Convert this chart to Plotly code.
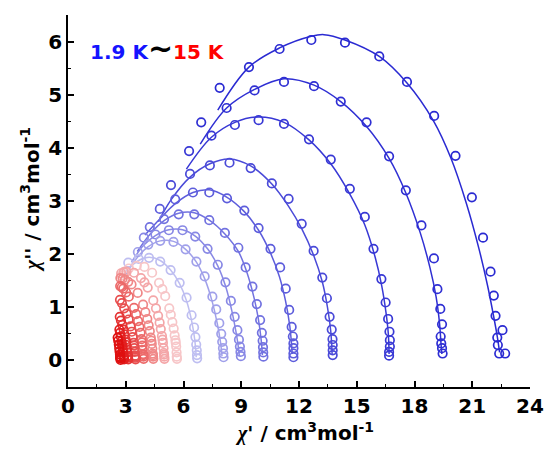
import plotly.graph_objects as go

# ---- data (chi' , chi'') ----
x1 = [7.88, 9.40, 10.99, 12.64, 14.39, 16.17, 17.61, 19.02, 20.13, 20.98, 21.56, 21.95, 22.12, 22.21, 22.30, 22.57, 22.33, 22.40, 22.71]
y1 = [5.13, 5.52, 5.86, 6.03, 5.98, 5.72, 5.24, 4.60, 3.85, 3.07, 2.31, 1.67, 1.22, 0.84, 0.43, 0.57, 0.29, 0.13, 0.13]
x2 = [6.92, 8.24, 9.69, 11.22, 12.78, 14.17, 15.51, 16.68, 17.55, 18.36, 19.01, 19.19, 19.34, 19.43, 19.36, 19.39, 19.43, 19.46]
y2 = [4.48, 4.75, 5.08, 5.24, 5.16, 4.87, 4.48, 3.84, 3.20, 2.54, 1.92, 1.34, 0.97, 0.68, 0.45, 0.32, 0.23, 0.13]
x3 = [6.29, 7.45, 8.67, 9.90, 11.22, 12.52, 13.65, 14.64, 15.42, 15.87, 16.28, 16.50, 16.63, 16.70, 16.72, 16.72, 16.68, 16.68]
y3 = [3.94, 4.23, 4.43, 4.52, 4.45, 4.16, 3.78, 3.23, 2.70, 2.10, 1.53, 1.09, 0.78, 0.54, 0.38, 0.26, 0.16, 0.09]
x4 = [5.35, 6.34, 7.37, 8.39, 9.49, 10.59, 11.46, 12.14, 12.76, 13.21, 13.45, 13.59, 13.70, 13.74, 13.75, 13.75, 13.75]
y4 = [3.30, 3.51, 3.67, 3.72, 3.62, 3.33, 3.04, 2.57, 2.06, 1.56, 1.17, 0.82, 0.58, 0.40, 0.29, 0.19, 0.10]
x5 = [4.77, 5.57, 6.49, 7.34, 8.26, 9.16, 9.90, 10.52, 11.02, 11.31, 11.49, 11.62, 11.68, 11.71, 11.71, 11.71, 11.71]
y5 = [2.85, 3.03, 3.16, 3.16, 3.05, 2.82, 2.49, 2.10, 1.75, 1.35, 0.95, 0.63, 0.45, 0.32, 0.23, 0.13, 0.06]
x6 = [4.25, 4.99, 5.75, 6.56, 7.34, 8.15, 8.85, 9.23, 9.58, 9.81, 9.98, 10.07, 10.11, 10.13, 10.14, 10.15]
y6 = [2.51, 2.66, 2.75, 2.75, 2.64, 2.40, 2.12, 1.75, 1.39, 1.06, 0.76, 0.52, 0.37, 0.25, 0.15, 0.07]
x7 = [3.94, 4.54, 5.24, 5.95, 6.61, 7.25, 7.78, 8.18, 8.46, 8.66, 8.80, 8.88, 8.93, 8.96, 8.98]
y7 = [2.31, 2.37, 2.45, 2.45, 2.33, 2.10, 1.80, 1.47, 1.12, 0.82, 0.57, 0.39, 0.26, 0.16, 0.08]
x8 = [3.63, 4.17, 4.79, 5.48, 6.11, 6.67, 7.10, 7.50, 7.70, 7.86, 7.96, 8.01, 8.05, 8.07, 8.08]
y8 = [2.04, 2.18, 2.25, 2.23, 2.09, 1.86, 1.58, 1.20, 0.96, 0.70, 0.50, 0.35, 0.23, 0.13, 0.06]
x9 = [3.13, 3.67, 4.21, 4.79, 5.33, 5.80, 6.16, 6.42, 6.55, 6.62, 6.66, 6.69, 6.70, 6.71]
y9 = [1.84, 1.91, 1.93, 1.86, 1.70, 1.46, 1.18, 0.85, 0.62, 0.44, 0.30, 0.19, 0.10, 0.04]
x10 = [5.66, 5.65, 5.64, 5.62, 5.60, 5.58, 5.54, 5.49, 5.42, 5.34, 5.26, 5.05, 4.90, 4.73, 4.37, 3.97, 3.57, 3.16, 2.96, 2.78]
y10 = [0.03, 0.07, 0.15, 0.26, 0.33, 0.38, 0.47, 0.60, 0.72, 0.86, 0.98, 1.21, 1.34, 1.46, 1.65, 1.76, 1.78, 1.73, 1.67, 1.60]
x11 = [5.01, 5.00, 4.99, 4.98, 4.96, 4.93, 4.91, 4.88, 4.82, 4.76, 4.68, 4.57, 4.43, 4.14, 3.97, 3.79, 3.43, 3.04, 2.90, 2.76]
y11 = [0.03, 0.07, 0.11, 0.14, 0.23, 0.33, 0.39, 0.46, 0.59, 0.71, 0.84, 0.98, 1.13, 1.37, 1.47, 1.55, 1.65, 1.67, 1.66, 1.64]
x12 = [4.43, 4.42, 4.41, 4.40, 4.38, 4.35, 4.33, 4.30, 4.25, 4.19, 4.12, 4.02, 3.90, 3.62, 3.30, 3.13, 2.96, 2.84, 2.72]
y12 = [0.03, 0.07, 0.10, 0.13, 0.22, 0.31, 0.37, 0.43, 0.55, 0.66, 0.78, 0.91, 1.05, 1.27, 1.43, 1.48, 1.52, 1.54, 1.55]
x13 = [3.93, 3.92, 3.915, 3.91, 3.88, 3.86, 3.84, 3.82, 3.77, 3.71, 3.64, 3.54, 3.43, 3.16, 3.02, 2.87, 2.79, 2.71]
y13 = [0.03, 0.07, 0.10, 0.12, 0.20, 0.28, 0.34, 0.40, 0.52, 0.63, 0.74, 0.87, 0.99, 1.20, 1.28, 1.35, 1.38, 1.40]
x14 = [3.51, 3.50, 3.495, 3.49, 3.47, 3.45, 3.43, 3.41, 3.36, 3.31, 3.25, 3.15, 3.04, 2.92, 2.80, 2.70]
y14 = [0.02, 0.05, 0.07, 0.09, 0.16, 0.23, 0.28, 0.33, 0.44, 0.54, 0.64, 0.77, 0.88, 0.98, 1.08, 1.14]
x15 = [3.13, 3.12, 3.115, 3.11, 3.09, 3.07, 3.04, 3.02, 3.00, 2.94, 2.89, 2.82, 2.75, 2.69]
y15 = [0.02, 0.05, 0.07, 0.09, 0.15, 0.21, 0.29, 0.34, 0.39, 0.49, 0.58, 0.67, 0.75, 0.82]
x16 = [2.91, 2.90, 2.895, 2.89, 2.87, 2.85, 2.82, 2.80, 2.78, 2.74, 2.70, 2.67]
y16 = [0.02, 0.05, 0.07, 0.09, 0.14, 0.20, 0.27, 0.31, 0.36, 0.45, 0.52, 0.58]
x17 = [2.73, 2.72, 2.715, 2.71, 2.70, 2.68, 2.66, 2.64, 2.61, 2.58]
y17 = [0.01, 0.04, 0.05, 0.07, 0.11, 0.17, 0.23, 0.30, 0.37, 0.43]

# ---- fitted lines ----
fx1 = [7.78, 9.40, 10.99, 12.64, 13.30, 14.39, 16.17, 17.61, 19.00, 19.90, 20.70, 21.35, 21.80, 22.10, 22.30, 22.42]
fy1 = [4.71, 5.52, 5.88, 6.10, 6.13, 6.03, 5.72, 5.22, 4.50, 3.80, 2.95, 2.10, 1.40, 0.85, 0.45, 0.15]
fx2 = [6.87, 8.24, 9.69, 11.22, 12.78, 14.17, 15.51, 16.68, 17.55, 18.30, 18.80, 19.12, 19.30, 19.38, 19.42]
fy2 = [4.07, 4.75, 5.10, 5.30, 5.18, 4.87, 4.40, 3.80, 3.15, 2.40, 1.75, 1.20, 0.70, 0.30, 0.12]
fx3 = [6.15, 7.45, 8.67, 9.90, 11.22, 12.52, 13.65, 14.64, 15.42, 15.95, 16.30, 16.52, 16.64, 16.68]
fy3 = [3.60, 4.20, 4.48, 4.58, 4.48, 4.15, 3.70, 3.13, 2.55, 1.95, 1.40, 0.90, 0.50, 0.12]
fx4 = [4.70, 5.35, 6.34, 7.37, 8.39, 9.49, 10.59, 11.46, 12.14, 12.76, 13.21, 13.48, 13.65, 13.72]
fy4 = [2.61, 3.02, 3.45, 3.70, 3.79, 3.66, 3.32, 2.90, 2.48, 1.98, 1.48, 1.00, 0.55, 0.12]
fx5 = [4.00, 4.77, 5.57, 6.49, 7.34, 8.26, 9.16, 9.90, 10.52, 10.98, 11.30, 11.52, 11.65]
fy5 = [2.36, 2.66, 2.95, 3.16, 3.21, 3.07, 2.80, 2.45, 2.02, 1.58, 1.12, 0.65, 0.12]
fx6 = [3.60, 4.25, 4.99, 5.75, 6.56, 7.34, 8.15, 8.85, 9.30, 9.65, 9.88, 10.03, 10.10]
fy6 = [2.05, 2.37, 2.63, 2.77, 2.78, 2.64, 2.38, 2.05, 1.65, 1.20, 0.80, 0.40, 0.10]
fx7 = [3.30, 3.94, 4.54, 5.24, 5.95, 6.61, 7.25, 7.78, 8.20, 8.50, 8.72, 8.85, 8.90]
fy7 = [1.85, 2.17, 2.35, 2.46, 2.46, 2.34, 2.10, 1.78, 1.38, 0.95, 0.55, 0.25, 0.08]
fx8 = [3.00, 3.63, 4.17, 4.79, 5.48, 6.11, 6.67, 7.12, 7.48, 7.75, 7.92, 8.00]
fy8 = [1.62, 1.95, 2.14, 2.25, 2.24, 2.09, 1.85, 1.52, 1.12, 0.70, 0.35, 0.08]
fx9 = [2.80, 3.13, 3.67, 4.21, 4.79, 5.33, 5.80, 6.16, 6.42, 6.58, 6.66]
fy9 = [1.55, 1.72, 1.88, 1.94, 1.88, 1.70, 1.44, 1.12, 0.75, 0.40, 0.06]

x_ticks = [0, 3, 6, 9, 12, 15, 18, 21, 24]
y_ticks = [0, 1, 2, 3, 4, 5, 6]

colors = ['#2a2ad2', '#2f2fd3', '#3838d5', '#4a4ad8', '#5d5ddc', '#7272e0', '#8888e5',
          '#a0a0ea', '#bebef1', '#f7c6c8', '#f4a6a8', '#f08888', '#ec6a6a', '#e84e4e',
          '#e53535', '#e22020', '#df1010']

data_x = [x1, x2, x3, x4, x5, x6, x7, x8, x9, x10, x11, x12, x13, x14, x15, x16, x17]
data_y = [y1, y2, y3, y4, y5, y6, y7, y8, y9, y10, y11, y12, y13, y14, y15, y16, y17]
fit_x = [fx1, fx2, fx3, fx4, fx5, fx6, fx7, fx8, fx9]
fit_y = [fy1, fy2, fy3, fy4, fy5, fy6, fy7, fy8, fy9]

fig = go.Figure()
for i in range(len(data_x)):
    if i < len(fit_x):
        fig.add_trace(go.Scatter(x=fit_x[i], y=fit_y[i], mode='lines',
                                 line=dict(color=colors[i], width=1.5, shape='spline', smoothing=1.0),
                                 showlegend=False, hoverinfo='skip'))
    fig.add_trace(go.Scatter(x=data_x[i], y=data_y[i], mode='markers',
                             marker=dict(symbol='circle-open', size=8.5, color=colors[i],
                                         line=dict(width=1.7, color=colors[i])),
                             showlegend=False))

tickfont = dict(family='DejaVu Sans', size=20, color='black', weight='bold')
axis_common = dict(showline=True, linewidth=1.6, linecolor='black', mirror=False,
                   ticks='inside', ticklen=6, tickwidth=1.6, tickcolor='black',
                   showgrid=False, zeroline=False, tickfont=tickfont, automargin=False)

fig.update_layout(
    width=545, height=455,
    margin=dict(l=68, r=15, t=15, b=68),
    paper_bgcolor='white', plot_bgcolor='white',
    xaxis=dict(range=[0, 24], tickvals=x_ticks, ticktext=[str(v) for v in x_ticks],
               minor=dict(ticks='inside', ticklen=3.5, tickwidth=1.4, tickcolor='black',
                          dtick=1.5, tick0=0, showgrid=False),
               **axis_common),
    yaxis=dict(range=[-0.5, 6.5], tickvals=y_ticks, ticktext=[str(v) for v in y_ticks],
               minor=dict(ticks='inside', ticklen=3.5, tickwidth=1.4, tickcolor='black',
                          dtick=0.5, tick0=0, showgrid=False),
               **axis_common),
)

title_font = dict(family='DejaVu Sans', size=20, color='black', weight='bold')
chi = "<span style='font-family:Liberation Serif'><i>χ</i></span>"
fig.add_annotation(xref='paper', yref='paper', x=0.512, y=-0.121,
                   xanchor='center', yanchor='middle', showarrow=False,
                   text=chi + "' / cm<sup>3</sup>mol<sup>-1</sup>", font=title_font)
fig.add_annotation(xref='paper', yref='paper', x=-0.083, y=0.504,
                   xanchor='center', yanchor='middle', showarrow=False, textangle=-90,
                   text=chi + "'' / cm<sup>3</sup>mol<sup>-1</sup>", font=title_font)
fig.add_annotation(xref='paper', yref='paper', x=0.043, y=0.909,
                   xanchor='left', yanchor='middle', showarrow=False,
                   text="<span style='color:#1414ff'>1.9 K</span><span style='font-size:30px'>~</span><span style='color:#ff0000'>15 K</span>",
                   font=title_font)

fig.write_html("out.html")
